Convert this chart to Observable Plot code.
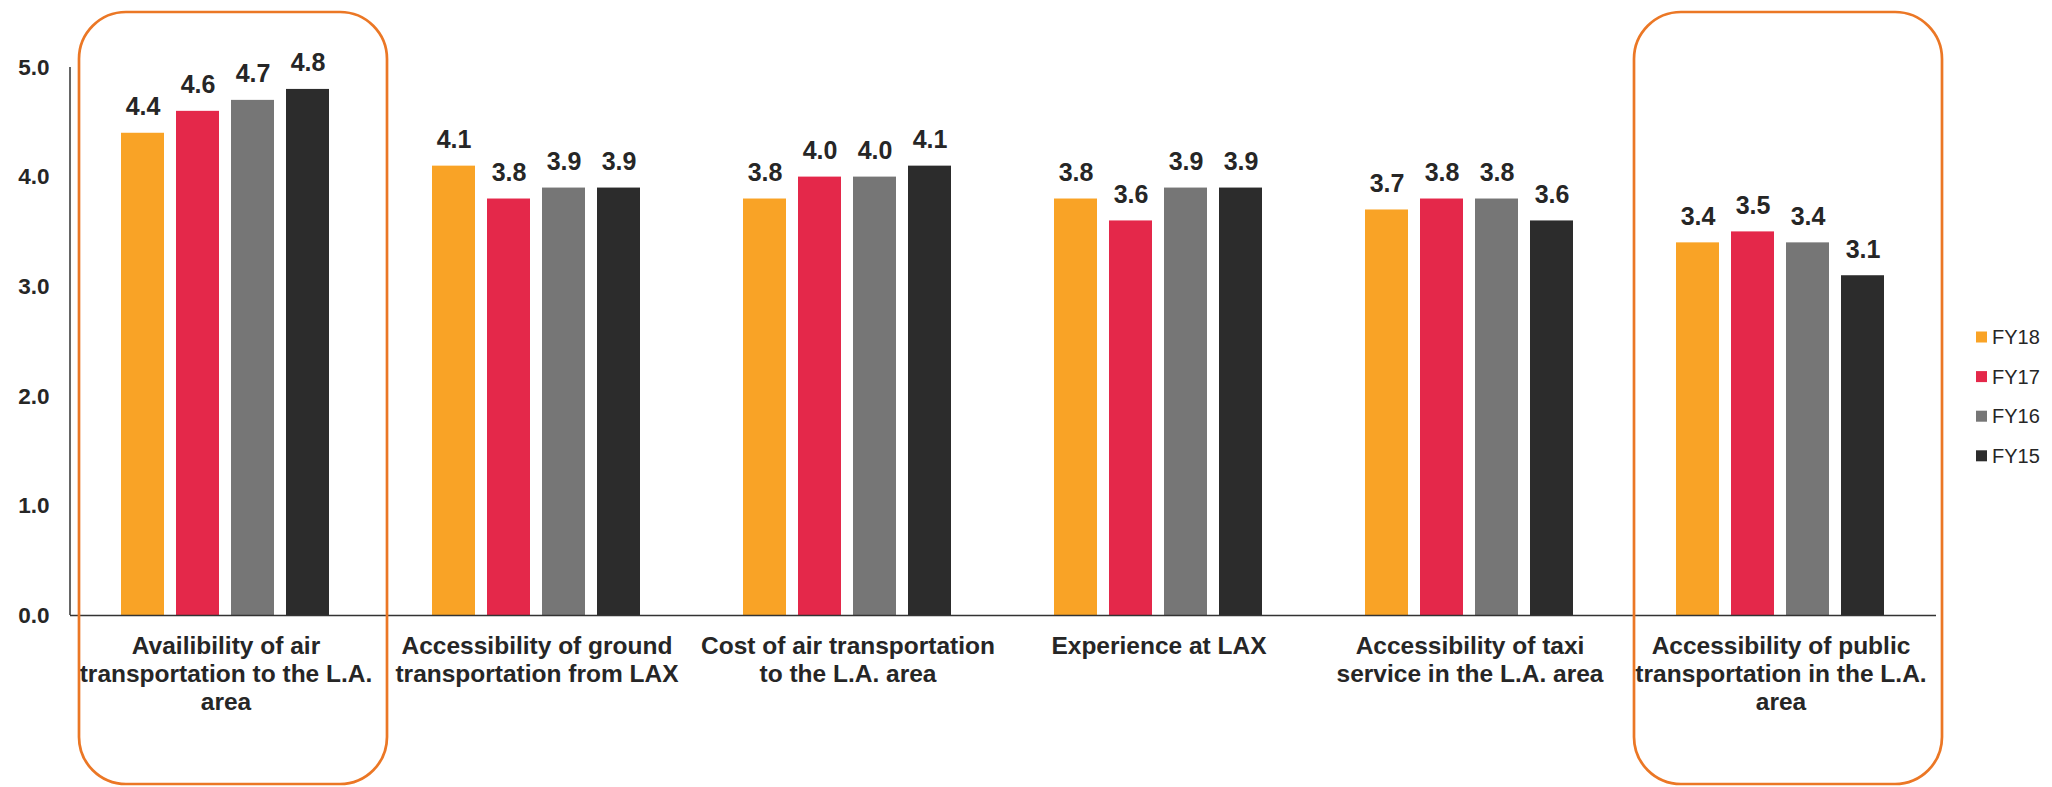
<!DOCTYPE html>
<html><head><meta charset="utf-8">
<script src="https://cdn.jsdelivr.net/npm/d3@7"></script>
<script src="https://cdn.jsdelivr.net/npm/@observablehq/plot@0.6"></script>
<style>body{margin:0;background:#fff} #chart{position:relative;width:2052px;height:787px}</style>
</head><body><div id="chart"></div>
<script>
const categories = [
  "Availibility of air transportation to the L.A. area",
  "Accessibility of ground transportation from LAX",
  "Cost of air transportation to the L.A. area",
  "Experience at LAX",
  "Accessibility of taxi service in the L.A. area",
  "Accessibility of public transportation in the L.A. area"
];
const tickLabels = [
  "Availibility of air\ntransportation to the L.A.\narea",
  "Accessibility of ground\ntransportation from LAX",
  "Cost of air transportation\nto the L.A. area",
  "Experience at LAX",
  "Accessibility of taxi\nservice in the L.A. area",
  "Accessibility of public\ntransportation in the L.A.\narea"
];
const series = ["FY18", "FY17", "FY16", "FY15"];
const fy18 = [4.4, 4.1, 3.8, 3.8, 3.7, 3.4];
const fy17 = [4.6, 3.8, 4.0, 3.6, 3.8, 3.5];
const fy16 = [4.7, 3.9, 4.0, 3.9, 3.8, 3.4];
const fy15 = [4.8, 3.9, 4.1, 3.9, 3.6, 3.1];
const colors = ["#F9A326", "#E4284A", "#767676", "#2C2C2C"];
const yTicks = [0, 1, 2, 3, 4, 5];
const highlighted = [categories[0], categories[5]];

const values = [fy18, fy17, fy16, fy15];
const data = categories.flatMap((c, ci) => series.map((s, si) => ({category: c, series: s, value: values[si][ci]})));

const textColor = "#262626";
const chart = Plot.plot({
  width: 2052, height: 787,
  marginLeft: 70, marginRight: 116, marginTop: 67, marginBottom: 172,
  style: {fontFamily: "'Liberation Sans', Arial, sans-serif", color: textColor, background: "transparent", overflow: "visible"},
  fx: {domain: categories, padding: 0, label: null},
  x: {domain: series, paddingInner: 0.2143, paddingOuter: 0.884, axis: null},
  y: {domain: [0, 5], label: null},
  color: {domain: series, range: colors},
  marks: [
    Plot.barY(data, {fx: "category", x: "series", y: "value", fill: "series"}),
    Plot.text(data, {fx: "category", x: "series", y: "value", text: d => d.value.toFixed(1), lineAnchor: "bottom", dy: -18, fontSize: 25, fontWeight: "bold", fill: textColor}),
    Plot.ruleY([0], {stroke: "#333", strokeWidth: 1.5}),
    Plot.axisY({ticks: yTicks, tickFormat: d => d.toFixed(1), tickSize: 0, tickPadding: 21, fontSize: 22.5, fontWeight: "bold", label: null}),
    Plot.axisFx({anchor: "bottom", tickFormat: d => tickLabels[categories.indexOf(d)], tickSize: 0, tickPadding: 19, fontSize: 24.5, fontWeight: "bold", lineHeight: 1.13, label: null})
  ]
});
document.getElementById("chart").appendChild(chart);

const svg = d3.select(chart);
const fx = chart.scale("fx");
const y = chart.scale("y");
const color = chart.scale("color");
const left = fx.apply(categories[0]);

// y axis line
svg.append("line")
  .attr("x1", left).attr("x2", left)
  .attr("y1", y.apply(0)).attr("y2", y.apply(5))
  .attr("stroke", "#333").attr("stroke-width", 1.5);

// highlight boxes
for (const c of highlighted) {
  svg.append("rect")
    .attr("x", fx.apply(c) + 9).attr("y", 12)
    .attr("width", fx.bandwidth - 3).attr("height", 772)
    .attr("rx", 47).attr("ry", 47)
    .attr("fill", "none").attr("stroke", "#EB7725").attr("stroke-width", 2.7);
}

// legend
const legendX = fx.range[1] + 40;
const lg = svg.append("g").attr("text-anchor", "start");
series.forEach((s, i) => {
  const cy = 337 + 39.6 * i;
  lg.append("rect").attr("x", legendX).attr("y", cy - 5.5).attr("width", 11).attr("height", 11).attr("fill", color.apply(s));
  lg.append("text").attr("x", legendX + 16).attr("y", cy).attr("dy", "0.36em")
    .attr("text-anchor", "start").attr("font-size", 20).attr("fill", textColor).text(s);
});
</script>
</body></html>
